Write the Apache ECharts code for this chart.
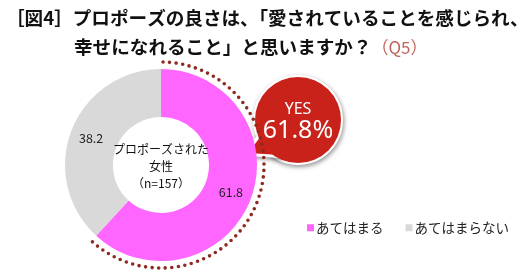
<!DOCTYPE html>
<html><head><meta charset="utf-8">
<script src="https://cdn.jsdelivr.net/npm/echarts@6/dist/echarts.min.js"></script>
<style>html,body{margin:0;padding:0;background:#fff}#c{width:532px;height:276px}</style>
</head><body><div id="c"></div>
<script>
const titleLine1 = '［図4］プロポーズの良さは、「愛されていることを感じられ、';
const titleLine2 = '幸せになれること」と思いますか？';
const titleSuffix = '（Q5）';
const categories = ['あてはまる', 'あてはまらない'];
const values = [61.8, 38.2];
const colors = ['#FF66FF', '#D9D9D9'];
const centerText = ['プロポーズされた', '女性', '（n=157）'];
const calloutLabel = 'YES';

const CX = 161, CY = 165, R_IN = 48, R_OUT = 96, R_DOT = 103;
const total = values.reduce((a, b) => a + b, 0);
const FONT = '"Noto Sans CJK JP","Noto Sans",sans-serif';

const chart = echarts.init(document.getElementById('c'), null, {renderer: 'canvas'});
chart.setOption({
  animation: false,
  textStyle: {fontFamily: FONT},
  title: [
    {text: titleLine1, left: 1, top: 4,
     textStyle: {fontSize: 18.6, fontWeight: 'bold', color: '#111', fontFamily: FONT}},
    {text: '{a|' + titleLine2 + '}{b|' + titleSuffix + '}', left: 69, top: 33,
     textStyle: {rich: {
       a: {fontSize: 18.6, fontWeight: 'bold', color: '#111', fontFamily: FONT},
       b: {fontSize: 17, fontWeight: 'normal', color: '#C0645E', fontFamily: FONT}
     }}}
  ],
  legend: {
    left: 302, top: 216, icon: 'rect', itemWidth: 7, itemHeight: 7, itemGap: 22,
    textStyle: {fontSize: 13.5, color: '#222', padding: [0, 0, 0, -3], fontFamily: FONT},
    data: categories
  },
  series: [
    {
      type: 'custom', coordinateSystem: 'none', z: 1, silent: true,
      data: [[values[0]]],
      renderItem: function (params, api) {
        const share = api.value(0) / total;
        const start = -Math.PI / 2;
        return {
          type: 'arc',
          shape: {cx: CX, cy: CY, r: R_DOT, startAngle: start + 0.02, endAngle: start + 2 * Math.PI * share, clockwise: true},
          style: {stroke: '#8E2A22', fill: null, lineWidth: 3.6, lineCap: 'round', lineDash: [0, 6.6]}
        };
      }
    },
    {
      type: 'pie', z: 2, center: [CX, CY], radius: [R_IN, R_OUT], startAngle: 90, clockwise: true,
      silent: true,
      label: {show: true, position: 'inside', fontSize: 12.5, color: '#222', fontFamily: FONT,
              formatter: p => p.value.toFixed(1)},
      labelLine: {show: false},
      itemStyle: {borderWidth: 0},
      data: categories.map((c, i) => ({name: c, value: values[i], itemStyle: {color: colors[i]}}))
    }
  ],
  color: colors,
  graphic: [
    {type: 'text', z: 50, style: {
      text: centerText.join('\n'), x: CX, y: CY + 1, align: 'center', verticalAlign: 'middle',
      fontSize: 12, lineHeight: 17, fill: '#111', fontFamily: FONT}},
    {type: 'group', z: 100, children: [
      {type: 'circle', shape: {cx: 298, cy: 120, r: 43},
       style: {fill: '#fff', stroke: '#fff', lineWidth: 4, shadowBlur: 5, shadowColor: 'rgba(0,0,0,0.35)', shadowOffsetX: 1, shadowOffsetY: 2}},
      {type: 'polygon', shape: {points: [[246, 154], [264, 130], [281, 156]]},
       style: {fill: '#fff', stroke: '#fff', lineWidth: 4, lineJoin: 'round', shadowBlur: 5, shadowColor: 'rgba(0,0,0,0.35)', shadowOffsetX: 1, shadowOffsetY: 2}},
      {type: 'circle', shape: {cx: 298, cy: 120, r: 43}, style: {fill: '#C8221A'}},
      {type: 'polygon', shape: {points: [[248, 153], [265, 131], [280, 155]]}, style: {fill: '#C8221A'}},
      {type: 'text', style: {text: calloutLabel, x: 298, y: 109, align: 'center', verticalAlign: 'middle',
        fontSize: 16, fill: '#fff', fontFamily: '"Noto Sans",sans-serif'}},
      {type: 'text', style: {text: values[0].toFixed(1) + '%', x: 298, y: 131, align: 'center', verticalAlign: 'middle',
        fontSize: 25, fill: '#fff', fontFamily: '"Noto Sans",sans-serif'}}
    ]}
  ]
});
</script></body></html>
